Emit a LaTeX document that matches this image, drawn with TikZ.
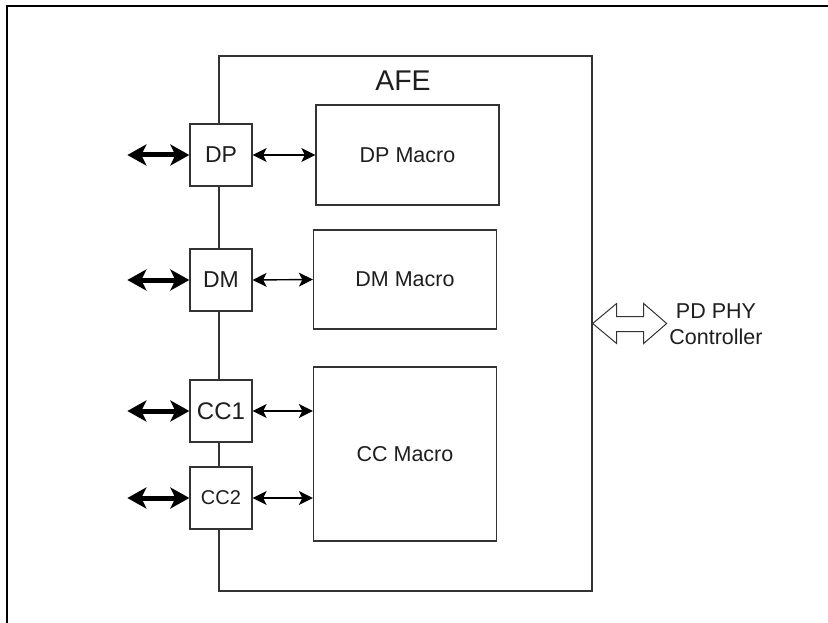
\documentclass[tikz,border=0pt]{standalone}
\usepackage{fontspec}
\setmainfont{Liberation Sans}
\usepackage{xcolor}
\usetikzlibrary{arrows.meta}
\definecolor{cbord}{RGB}{51,51,51}
\definecolor{ctexte}{RGB}{30,30,30}

\begin{document}
\begin{tikzpicture}[x=1pt, y=-1pt, >=Stealth,
  bloc/.style={draw=cbord, line width=1.3pt, fill=white, inner sep=0pt, text=ctexte},
  port/.style={bloc, minimum width=62pt, minimum height=62pt, font=\fontsize{23}{25}\selectfont},
  macro/.style={bloc, minimum width=183pt, font=\fontsize{21.5}{24}\selectfont},
  bus/.style={line width=5pt, {Stealth[length=19pt,width=21pt,inset=5pt]}-{Stealth[length=19pt,width=21pt,inset=5pt]}},
  lien/.style={line width=1.4pt, {Stealth[length=14pt,width=14pt,inset=3.5pt]}-{Stealth[length=14pt,width=14pt,inset=3.5pt]}},
  creux/.style={draw=cbord, line width=1pt, line join=miter}]
\useasboundingbox (0,0) rectangle (828,623);
% cadre
\draw[line width=2pt] (6.5,623) -- (6.5,6.5) -- (828,6.5);
% bloc AFE
\node[bloc, minimum width=373pt, minimum height=535pt] (afe) at (405.5,323.5) {};
\node[text=ctexte, font=\fontsize{28.5}{30}\selectfont] (afetitre) at (403,81) {AFE};
% macros
\node[macro, minimum height=100pt] (dpm) at (407.5,155) {DP Macro};
\node[macro, minimum height=99pt] (dmm) at (405,279.5) {DM Macro};
\node[macro, minimum height=174pt] (ccm) at (405,454) {CC Macro};
% ports
\node[port] (dp) at (221,155) {DP};
\node[port] (dm) at (221,280) {DM};
\node[port, font=\fontsize{24}{26}\selectfont] (cc1) at (221,411) {CC1};
\node[port, font=\fontsize{20}{22}\selectfont] (cc2) at (221,498) {CC2};
% liaisons
\draw[lien] (dp.east) -- (dpm.west);
\draw[lien] (dm.east) -- (dmm.west);
\draw[lien] (cc1.east) -- (cc1.east -| ccm.west);
\draw[lien] (cc2.east) -- (cc2.east -| ccm.west);
\foreach \p in {dp,dm,cc1,cc2}
  {\coordinate (\p ext) at ([xshift=-62pt]\p.west);
   \draw[bus] (\p ext) -- (\p.west);}
% vers le controleur
\node[text=ctexte, align=center, font=\fontsize{21.5}{26}\selectfont] (pd) at (716,324) {PD PHY\\Controller};
\draw[creux] (afe.east) -- ++(24,-20) -- ++(0,13) -- ++(27,0) -- ++(0,-13) -- ++(23,20)
  -- ++(-23,20) -- ++(0,-12) -- ++(-27,0) -- ++(0,12) -- cycle;
\end{tikzpicture}
\end{document}
